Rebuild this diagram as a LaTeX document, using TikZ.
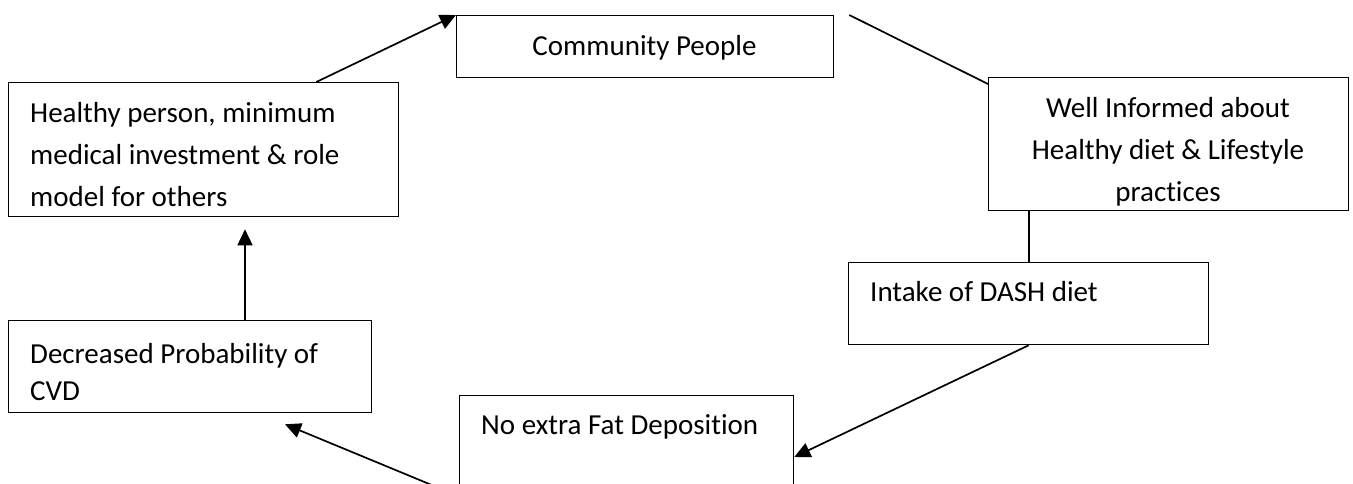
\documentclass[tikz,border=0pt]{standalone}
\usepackage{fontspec}
\setmainfont{Carlito}[Ligatures=NoCommon]
\usetikzlibrary{positioning,calc,arrows.meta}

\tikzset{
  box/.style={draw, line width=1.3pt, anchor=north west, inner sep=0pt},
  txt/.style={inner sep=0pt, font=\fontsize{29}{42}\selectfont},
  link/.style={line width=1.7pt},
  flow/.style={line width=1.7pt, -{Triangle[length=16pt,width=15pt]}}
}

\begin{document}
\begin{tikzpicture}[x=1pt,y=-1pt]
    \useasboundingbox (0,0) rectangle (1353,483);
    % boxes
    \node[box, minimum width=377pt, minimum height=62pt] (comm) at (456,15) {};
    \node[box, minimum width=360pt, minimum height=133pt] (well) at (988,77) {};
    \node[box, minimum width=360pt, minimum height=82pt] (intake) at (848,262) {};
    \node[box, minimum width=334pt, minimum height=130pt] (nofat) at (459,395) {};
    \node[box, minimum width=363pt, minimum height=92pt] (decr) at (8,320) {};
    \node[box, minimum width=390pt, minimum height=134pt] (healthy) at (8,82) {};
    % texts
    \node[txt, anchor=base] (comm-t) at (644.5,55) {Community People};
    \node[txt, anchor=base, text width=340pt, align=flush center] (well-t) at (1168,117)
        {Well Informed about\\Healthy diet \& Lifestyle\\practices};
    \node[txt, anchor=base west] (intake-t) at (870,301) {Intake of DASH diet};
    \node[txt, anchor=base west] (nofat-t) at (481,434) {No extra Fat Deposition};
    \node[txt, anchor=base west, text width=340pt, align=flush left,
          font=\fontsize{29}{37}\selectfont] (decr-t) at (30,363)
        {Decreased Probability of\\CVD};
    \node[txt, anchor=base west, text width=360pt, align=flush left] (healthy-t) at (30,122)
        {Healthy person, minimum\\medical investment \& role\\model for others};
    % connectors
    \coordinate (fatout) at ([shift={(9pt,-105pt)}]nofat.north west);
    \draw[flow] ([xshift=-83pt]healthy.north east) -- (comm.north west);
    \draw[link] ([xshift=15pt]comm.north east) -- ([yshift=-7pt]well.north west);
    \draw[link] (well.south -| intake.north) -- (intake.north);
    \draw[flow] (intake.south) -- ([yshift=-62pt]nofat.north east);
    \draw[flow] (fatout) -- ([shift={(277pt,-11pt)}]decr.south west);
    \draw[flow] ([xshift=237pt]decr.north west) -- ([shift={(237pt,-12pt)}]healthy.south west);
\end{tikzpicture}
\end{document}
